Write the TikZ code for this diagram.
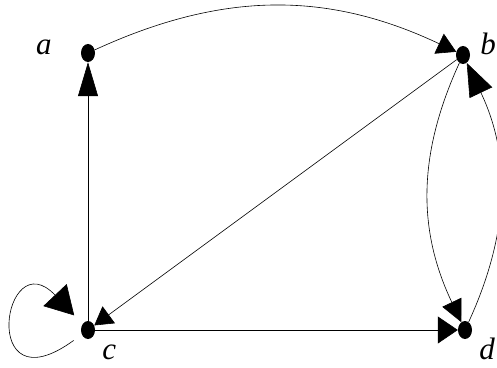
\documentclass[tikz,border=0pt]{standalone}
\usepackage{fontspec}
\setmainfont{Liberation Serif}
\usetikzlibrary{positioning,arrows.meta,shapes.geometric}

\begin{document}
\begin{tikzpicture}[
  x=1pt, y=1pt,
  vertex/.style={ellipse, fill=black, inner sep=0pt, minimum width=14pt, minimum height=18pt},
  lbl/.style={font=\fontsize{31}{33}\selectfont\itshape, inner sep=0pt},
  arr/.style 2 args={-{Triangle[length=#1, width=#2]}, line width=0.6pt}
]
\useasboundingbox (0,0) rectangle (497,367);

% vertices
\node[vertex] (a) at (88,314) {};
\node[vertex] (b) at (463,312) {};
\node[vertex] (c) at (88,37) {};
\node[vertex] (d) at (465,37) {};

% labels
\node[lbl, left=29pt of a, yshift=6pt] (la) {a};
\node[lbl, right=10pt of b, yshift=11pt] (lb) {b};
\node[lbl, right=7pt of c, yshift=-22pt] (lc) {c};
\node[lbl, right=7pt of d, yshift=-19pt] (ld) {d};

% edges
\draw[arr={34pt}{20pt}] (c) -- (a);
\draw[arr={19pt}{22pt}] (a) to[bend left=25] (b);
\draw[arr={18pt}{21pt}] (b) -- (c);
\draw[arr={20pt}{27pt}] (c) -- (d);
\draw[arr={22pt}{21pt}] (b) to[bend right=25] (d);
\draw[arr={33pt}{25pt}] (d) to[bend right=25] (b);
% self loop at c
\draw[arr={28pt}{32pt}, shorten <=10pt, shorten >=12pt] (c) .. controls +(-110,-80) and +(-85,90) .. (c);

\end{tikzpicture}
\end{document}
